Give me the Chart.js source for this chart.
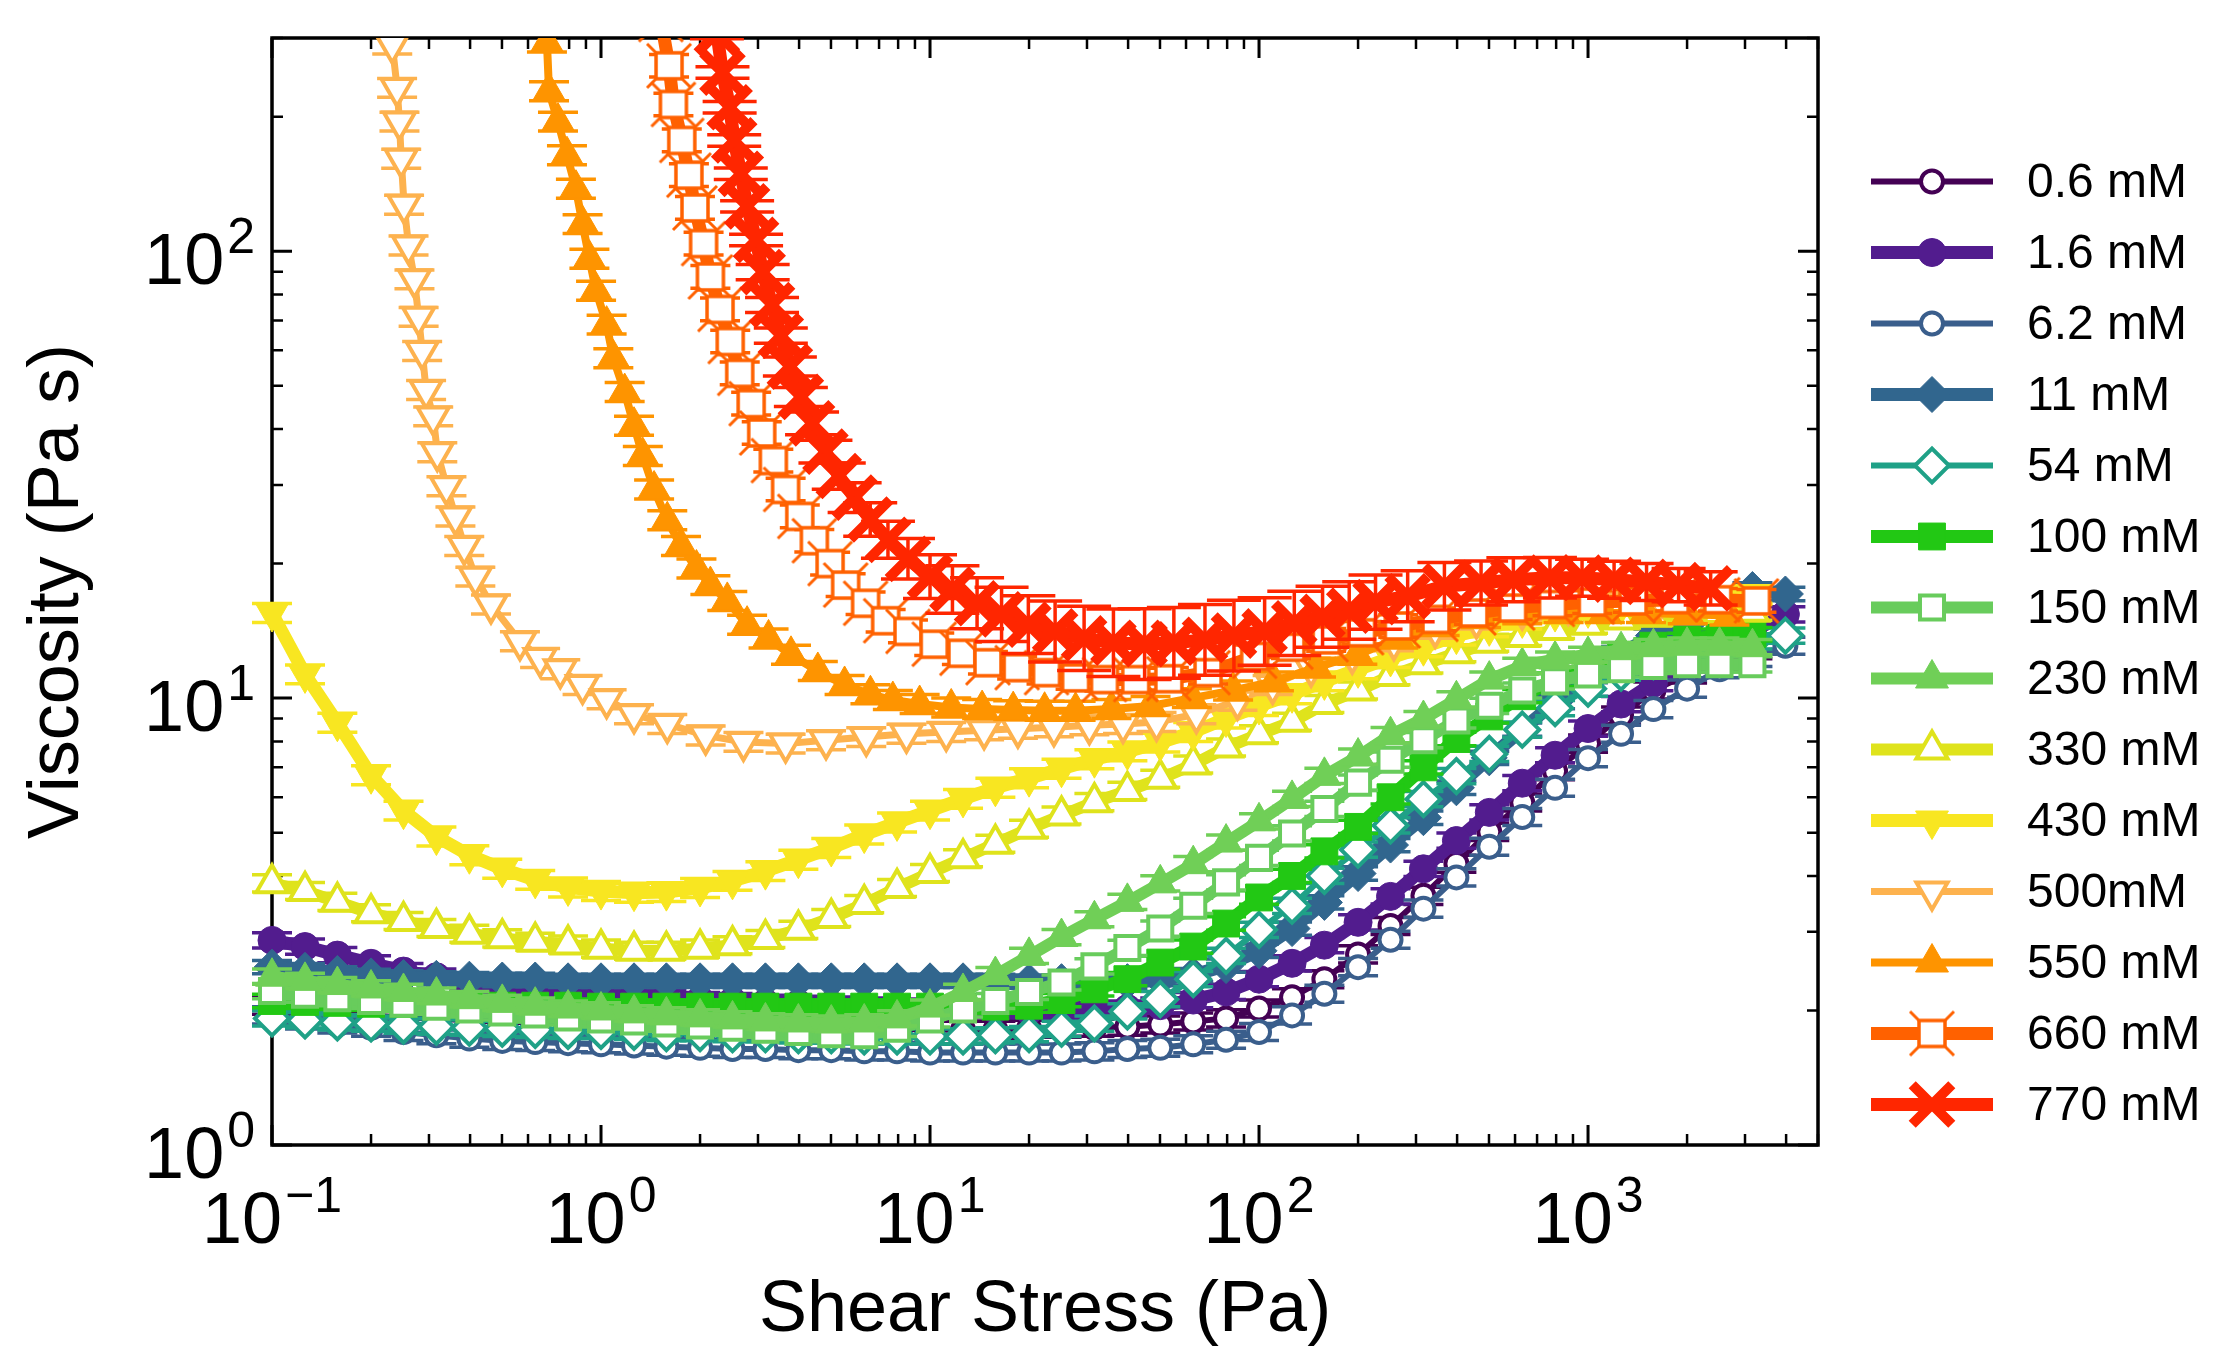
<!DOCTYPE html>
<html>
<head>
<meta charset="utf-8">
<script src="https://cdn.jsdelivr.net/npm/chart.js@4.4.0/dist/chart.umd.min.js"></script>
<style>
  html, body { margin: 0; padding: 0; background: #fff; }
  canvas { display: block; }
</style>
</head>
<body>
<canvas id="viscChart" width="2223" height="1347"></canvas>
<script>
// ---------- data ----------
// shared shear stress grid (Pa) for 0.6 – 430 mM
const stressGrid = [0.1, 0.126, 0.158, 0.2, 0.251, 0.316, 0.398, 0.501, 0.631, 0.794,
  1, 1.26, 1.58, 2, 2.51, 3.16, 3.98, 5.01, 6.31, 7.94,
  10, 12.6, 15.8, 20, 25.1, 31.6, 39.8, 50.1, 63.1, 79.4,
  100, 126, 158, 200, 251, 316, 398, 501, 631, 794,
  1000, 1260, 1580, 2000, 2510, 3160, 3980];

const eta06 = [2.05, 2.0, 1.97, 1.95, 1.93, 1.92, 1.9, 1.89, 1.88, 1.87,
  1.86, 1.85, 1.85, 1.84, 1.84, 1.83, 1.83, 1.82, 1.82, 1.82,
  1.81, 1.81, 1.81, 1.82, 1.82, 1.83, 1.84, 1.86, 1.89, 1.92,
  2.02, 2.14, 2.35, 2.67, 3.09, 3.61, 4.26, 5.02, 5.84, 6.86,
  7.91, 9.14, 10.4, 11.3, 12.1, 12.8, null];
const eta16 = [2.87, 2.78, 2.66, 2.55, 2.45, 2.38, 2.32, 2.27, 2.23, 2.2,
  2.17, 2.15, 2.13, 2.11, 2.1, 2.08, 2.07, 2.06, 2.05, 2.04,
  2.03, 2.02, 2.01, 2.0, 2.0, 2.0, 2.02, 2.05, 2.11, 2.2,
  2.35, 2.55, 2.8, 3.15, 3.6, 4.15, 4.8, 5.55, 6.45, 7.45,
  8.55, 9.7, 10.8, 11.9, 13.0, 14.1, 15.4];
const eta62 = [1.95, 1.9, 1.86, 1.83, 1.79, 1.76, 1.73, 1.71, 1.7, 1.69,
  1.68, 1.67, 1.66, 1.65, 1.64, 1.64, 1.63, 1.63, 1.62, 1.62,
  1.61, 1.61, 1.61, 1.61, 1.61, 1.62, 1.64, 1.65, 1.68, 1.72,
  1.79, 1.95, 2.18, 2.5, 2.88, 3.38, 3.97, 4.65, 5.42, 6.3,
  7.34, 8.32, 9.45, 10.5, 11.6, 12.3, 13.1];
const eta11 = [2.5, 2.46, 2.42, 2.39, 2.37, 2.36, 2.35, 2.34, 2.34, 2.33,
  2.33, 2.33, 2.33, 2.33, 2.33, 2.33, 2.33, 2.33, 2.33, 2.33,
  2.33, 2.33, 2.33, 2.32, 2.32, 2.32, 2.32, 2.35, 2.4, 2.52,
  2.72, 3.05, 3.49, 4.05, 4.69, 5.4, 6.3, 7.35, 8.5, 9.8,
  11.2, 12.6, 13.8, 14.6, 15.6, 17.5, 17.1];
const eta54 = [1.92, 1.9, 1.88, 1.87, 1.85, 1.84, 1.83, 1.82, 1.81, 1.8,
  1.8, 1.79, 1.78, 1.78, 1.77, 1.77, 1.76, 1.76, 1.75, 1.75,
  1.75, 1.75, 1.76, 1.77, 1.82, 1.87, 1.99, 2.12, 2.35, 2.65,
  3.03, 3.43, 4.0, 4.58, 5.19, 5.94, 6.69, 7.5, 8.5, 9.5,
  10.5, 11.4, 12.1, 12.7, 13.1, 13.4, 13.8];
const eta100 = [2.1, 2.09, 2.08, 2.07, 2.07, 2.06, 2.06, 2.05, 2.05, 2.05,
  2.04, 2.04, 2.04, 2.04, 2.04, 2.04, 2.04, 2.04, 2.04, 2.04,
  2.04, 2.04, 2.04, 2.05, 2.11, 2.23, 2.35, 2.56, 2.78, 3.13,
  3.58, 4.0, 4.54, 5.15, 6.0, 7.0, 8.1, 9.1, 10.1, 11.0,
  11.8, 12.5, 13.1, 13.5, 13.8, 13.9, null];
const eta150 = [2.21, 2.17, 2.13, 2.1, 2.07, 2.04, 2.01, 1.98, 1.96, 1.93,
  1.91, 1.89, 1.87, 1.85, 1.83, 1.81, 1.79, 1.77, 1.76, 1.82,
  1.91, 2.01, 2.1, 2.2, 2.31, 2.51, 2.76, 3.05, 3.43, 3.87,
  4.39, 4.98, 5.65, 6.47, 7.28, 8.05, 8.91, 9.61, 10.4, 10.9,
  11.3, 11.6, 11.8, 11.9, 11.9, 11.9, null];
const eta230 = [2.38, 2.33, 2.28, 2.24, 2.2, 2.16, 2.12, 2.08, 2.05, 2.02,
  2.0, 1.97, 1.95, 1.93, 1.91, 1.89, 1.88, 1.87, 1.88, 1.92,
  2.03, 2.2, 2.4, 2.65, 2.92, 3.2, 3.5, 3.85, 4.25, 4.75,
  5.3, 5.95, 6.7, 7.4, 8.26, 8.98, 9.94, 11.0, 11.8, 12.2,
  12.5, 12.8, 13.0, 13.1, 13.1, 13.0, null];
const eta330 = [3.85, 3.7, 3.5, 3.3, 3.17, 3.06, 2.97, 2.9, 2.85, 2.81,
  2.75, 2.72, 2.72, 2.75, 2.8, 2.89, 3.03, 3.22, 3.46, 3.76,
  4.06, 4.38, 4.72, 5.1, 5.46, 5.85, 6.2, 6.6, 7.1, 7.75,
  8.3, 8.85, 9.7, 10.4, 11.2, 11.9, 12.6, 13.3, 13.7, 14.2,
  14.6, 15.0, 15.2, 15.4, 15.5, 15.6, null];
const eta430 = [15.5, 11.3, 8.81, 6.72, 5.6, 4.9, 4.45, 4.15, 3.92, 3.77,
  3.7, 3.67, 3.68, 3.76, 3.9, 4.1, 4.35, 4.62, 4.95, 5.27,
  5.6, 5.95, 6.3, 6.62, 6.95, 7.3, 7.6, 7.95, 8.4, 9.0,
  9.6, 10.2, 10.9, 11.6, 12.3, 13.0, 13.8, 14.4, 15.0, 15.5,
  15.8, 16.1, 16.3, 16.5, 16.7, 17.0, null];

// yield-stress samples: own stress values
const stress500 = [0.232, 0.240, 0.244, 0.247, 0.252, 0.26, 0.271, 0.279, 0.286, 0.294,
  0.309, 0.318, 0.339, 0.361, 0.384, 0.415, 0.463, 0.567, 0.653, 0.752,
  0.879, 1.04, 1.26, 1.59, 2.08, 2.71, 3.64, 4.83, 6.4, 8.48,
  11.2, 14.6, 18.5, 23.8, 30.5, 38.6, 48.8, 64.5, 86, 110,
  144, 192, 257, 343, 458, 631, 871, 1200, 1660, 2140];
const eta500 = [290, 232, 195, 161, 127, 103, 86.5, 71.3, 59.8, 48.9,
  42.7, 35.5, 29.8, 25.5, 21.9, 18.7, 16.2, 13.4, 12.3, 11.6,
  10.7, 9.94, 9.2, 8.75, 8.25, 7.98, 7.91, 8.05, 8.18, 8.32,
  8.4, 8.47, 8.54, 8.61, 8.69, 8.75, 8.84, 9.2, 9.86, 10.7,
  11.7, 12.5, 13.4, 14.3, 15.0, 15.7, 16.1, 16.4, 16.5, 16.6];

const stress550 = [0.685, 0.695, 0.74, 0.788, 0.839, 0.879, 0.922, 0.966, 1.04, 1.09,
  1.18, 1.26, 1.34, 1.45, 1.59, 1.75, 1.95, 2.15, 2.42, 2.78,
  3.23, 3.78, 4.56, 5.5, 6.59, 7.71, 9.3, 11.6, 14.4, 17.9,
  22.3, 27.7, 35.6, 46.8, 62.5, 83.4, 111, 149, 199, 265,
  354, 473, 631, 843, 1125, 1500, 2010, 2690];
const eta550 = [293, 228, 195, 164, 138, 115, 96.2, 81.6, 68.5, 57.6,
  48.4, 40.7, 34.8, 29.3, 25.0, 21.9, 19.5, 17.9, 16.5, 14.6,
  13.6, 12.5, 11.5, 10.7, 10.2, 9.9, 9.7, 9.53, 9.45, 9.4,
  9.37, 9.37, 9.45, 9.6, 10.0, 10.4, 10.9, 11.7, 12.5, 13.6,
  14.5, 15.1, 15.4, 15.5, 15.5, 15.5, 15.4, 15.3];

const stress660 = [1.52, 1.61, 1.66, 1.76, 1.85, 1.93, 2.05, 2.15, 2.3, 2.47,
  2.64, 2.86, 3.08, 3.34, 3.64, 4.02, 4.45, 4.97, 5.54, 6.37,
  7.33, 8.57, 10.3, 12.5, 15.0, 18.4, 22.6, 27.7, 33.9, 42.2,
  53.2, 70, 97, 125, 160, 205, 265, 345, 450, 590,
  780, 1030, 1370, 1840, 2480, 3250];
const eta660 = [330, 260, 213, 177, 148, 125, 104, 87.6, 74.1, 62.8,
  53.3, 45.6, 39.2, 34.0, 29.3, 25.5, 22.5, 20.0, 17.9, 16.3,
  14.9, 14.1, 13.2, 12.6, 12.0, 11.7, 11.4, 11.1, 11.0, 11.0,
  11.05, 11.4, 12.4, 13.0, 13.5, 14.0, 14.5, 15.0, 15.5, 15.9,
  16.2, 16.4, 16.5, 16.6, 16.6, 16.5];

const stress770 = [2.25, 2.34, 2.46, 2.54, 2.66, 2.78, 2.96, 3.1, 3.31, 3.52,
  3.75, 4.05, 4.38, 4.81, 5.28, 5.9, 6.58, 7.45, 8.57, 10.0,
  11.7, 13.9, 16.5, 19.9, 24.0, 29.4, 36.1, 44.9, 55.1, 68.5,
  83.9, 104, 128, 156, 188, 226, 283, 366, 473, 593,
  766, 959, 1200, 1506, 1885, 2359];
const eta770 = [308, 251, 210, 177, 149, 126, 106, 89.8, 75.8, 64.7,
  55.2, 47.2, 41.2, 35.6, 31.4, 28.1, 25.1, 22.6, 20.5, 18.7,
  17.5, 16.3, 15.4, 14.6, 14.1, 13.6, 13.3, 13.2, 13.3, 13.5,
  13.8, 14.1, 14.7, 15.2, 15.7, 16.4, 16.9, 17.8, 18.1, 18.4,
  18.6, 18.6, 18.4, 18.2, 17.9, 17.6];
// relative error of 770 mM points
const err770 = [0.03, 0.03, 0.03, 0.03, 0.03, 0.03, 0.03, 0.04, 0.04, 0.04,
  0.05, 0.05, 0.06, 0.06, 0.07, 0.08, 0.09, 0.1, 0.11, 0.12,
  0.13, 0.14, 0.15, 0.16, 0.17, 0.18, 0.19, 0.2, 0.2, 0.2,
  0.2, 0.19, 0.18, 0.17, 0.16, 0.15, 0.14, 0.13, 0.12, 0.12,
  0.11, 0.1, 0.1, 0.1, 0.09, 0.09];
// relative error of the other series
const errRel = [0.045, 0.04, 0.045, 0.035, 0.04, 0.035, 0.04, 0.04, 0.045, 0.05, 0.05, 0.05, 0.06, null];

const seriesLabels = ['0.6 mM', '1.6 mM', '6.2 mM', '11 mM', '54 mM', '100 mM', '150 mM',
  '230 mM', '330 mM', '430 mM', '500mM', '550 mM', '660 mM', '770 mM'];
const xSets = [stressGrid, stressGrid, stressGrid, stressGrid, stressGrid, stressGrid, stressGrid,
  stressGrid, stressGrid, stressGrid, stress500, stress550, stress660, stress770];
const ySets = [eta06, eta16, eta62, eta11, eta54, eta100, eta150, eta230, eta330, eta430,
  eta500, eta550, eta660, eta770];

// axis tick labels (powers of ten)
const xTickPowers = ['\u22121', '0', '1', '2', '3'];
const yTickPowers = ['0', '1', '2'];

// ---------- styles ----------
const FONT = '"Liberation Sans", Arial, Helvetica, sans-serif';

// square with diagonal whiskers (660 mM)
function burstSquare(color) {
    const c = document.createElement('canvas');
    c.width = 56; c.height = 56;
    const g = c.getContext('2d');
    g.strokeStyle = color;
    g.lineWidth = 3;
    g.beginPath();
    g.moveTo(6, 6); g.lineTo(50, 50);
    g.moveTo(50, 6); g.lineTo(6, 50);
    g.stroke();
    g.fillStyle = '#fff';
    g.fillRect(15, 15, 26, 26);
    g.lineWidth = 3.5;
    g.strokeRect(15, 15, 26, 26);
    return c;
}

const styles = [
    { color: '#440154', lw: 6,  shape: 'circle',   r: 11, open: true },
    { color: '#521c8e', lw: 13, shape: 'circle',   r: 14, open: false },
    { color: '#3a5e8c', lw: 6,  shape: 'circle',   r: 11, open: true },
    { color: '#31668e', lw: 13, shape: 'rectRot',  r: 18, open: false },
    { color: '#1fa187', lw: 6,  shape: 'rectRot',  r: 17, open: true },
    { color: '#22c814', lw: 13, shape: 'rect',     r: 19, open: false },
    { color: '#68cc5c', lw: 12, shape: 'rect',     r: 17, open: true },
    { color: '#70cf57', lw: 12, shape: 'triangle', r: 19, open: false },
    { color: '#dfe31c', lw: 12, shape: 'triangle', r: 18, open: true },
    { color: '#f8e621', lw: 13, shape: 'triangle', r: 19, open: false, rot: 180 },
    { color: '#fdb24e', lw: 7,  shape: 'triangle', r: 18, open: true,  rot: 180 },
    { color: '#fe9400', lw: 8,  shape: 'triangle', r: 19, open: false },
    { color: '#ff6100', lw: 13, shape: 'burst',    r: 16, open: true },
    { color: '#ff2600', lw: 13, shape: 'crossRot', r: 28, open: false, bw: 10 }
];

// ---------- datasets ----------
const datasets = seriesLabels.map((label, k) => {
    const st = styles[k];
    const pts = [];
    const errs = [];
    xSets[k].forEach((x, i) => {
        const y = ySets[k][i];
        if (y === null) return;
        pts.push({ x: x, y: y });
        errs.push(k === 13 ? err770[i] : errRel[k]);
    });
    const style = st.shape === 'burst' ? burstSquare(st.color) : st.shape;
    const bw = st.bw ? st.bw : (st.open ? 4 : 1);
    return {
        label: label,
        data: pts,
        errors: errs,
        capHalf: k === 13 ? 27 : 20,
        showLine: true,
        borderColor: st.color,
        borderWidth: st.lw,
        backgroundColor: st.color,
        pointStyle: style,
        pointRadius: st.r,
        pointRotation: st.rot || 0,
        pointBorderWidth: bw,
        pointBorderColor: st.color,
        pointBackgroundColor: st.open ? '#ffffff' : st.color,
        pointHoverRadius: st.r,
        tension: 0,
        clip: { left: 40, right: 40, top: 0, bottom: 0 },
        order: seriesLabels.length - k
    };
});

// ---------- plugins ----------
// frame and inward ticks on all four sides
const axisFrame = {
    id: 'axisFrame',
    beforeDatasetsDraw(chart) {
        const { ctx, chartArea: a, scales } = chart;
        const xs = scales.x, ys = scales.y;
        ctx.save();
        ctx.strokeStyle = '#000';
        for (let d = -1; d <= 3; d++) {
            for (let m = 1; m <= 9; m++) {
                const v = m * Math.pow(10, d);
                if (v < 0.1 || v > 5000) continue;
                const px = xs.getPixelForValue(v);
                const len = m === 1 ? 20 : 11;
                ctx.lineWidth = m === 1 ? 3 : 2.5;
                ctx.beginPath();
                ctx.moveTo(px, a.bottom); ctx.lineTo(px, a.bottom - len);
                ctx.moveTo(px, a.top); ctx.lineTo(px, a.top + len);
                ctx.stroke();
            }
        }
        for (let d = 0; d <= 2; d++) {
            for (let m = 1; m <= 9; m++) {
                const v = m * Math.pow(10, d);
                if (v < 1 || v > 300) continue;
                const py = ys.getPixelForValue(v);
                const len = m === 1 ? 20 : 11;
                ctx.lineWidth = m === 1 ? 3 : 2.5;
                ctx.beginPath();
                ctx.moveTo(a.left, py); ctx.lineTo(a.left + len, py);
                ctx.moveTo(a.right, py); ctx.lineTo(a.right - len, py);
                ctx.stroke();
            }
        }
        ctx.lineWidth = 3.5;
        ctx.strokeRect(a.left, a.top, a.right - a.left, a.bottom - a.top);
        ctx.restore();
    }
};

// vertical error bars with caps, drawn under each series
const errorBars = {
    id: 'errorBars',
    beforeDatasetDraw(chart, args) {
        const ds = chart.data.datasets[args.index];
        const { ctx, chartArea: a } = chart;
        const ys = chart.scales.y;
        ctx.save();
        ctx.beginPath();
        ctx.rect(a.left - 40, a.top, a.right - a.left + 80, a.bottom - a.top);
        ctx.clip();
        ctx.strokeStyle = ds.borderColor;
        ctx.lineWidth = 3.5;
        args.meta.data.forEach((pt, i) => {
            const v = ds.data[i].y;
            const e = ds.errors[i];
            const yHi = ys.getPixelForValue(v * (1 + e));
            const yLo = ys.getPixelForValue(v / (1 + e));
            const c = ds.capHalf;
            ctx.beginPath();
            ctx.moveTo(pt.x, yHi); ctx.lineTo(pt.x, yLo);
            ctx.moveTo(pt.x - c, yHi); ctx.lineTo(pt.x + c, yHi);
            ctx.moveTo(pt.x - c, yLo); ctx.lineTo(pt.x + c, yLo);
            ctx.stroke();
        });
        ctx.restore();
    }
};

function drawPower(ctx, exp, x, baseline, align) {
    ctx.font = '72px ' + FONT;
    const wb = ctx.measureText('10').width;
    ctx.font = '50px ' + FONT;
    const we = ctx.measureText(exp).width;
    const total = wb + 3 + we;
    const x0 = align === 'center' ? x - total / 2 : x - total;
    ctx.textAlign = 'left';
    ctx.textBaseline = 'alphabetic';
    ctx.font = '72px ' + FONT;
    ctx.fillText('10', x0, baseline);
    ctx.font = '50px ' + FONT;
    ctx.fillText(exp, x0 + wb + 3, baseline - 31);
}

// tick labels, axis titles and legend
const labelsAndLegend = {
    id: 'labelsAndLegend',
    afterDraw(chart) {
        const { ctx, chartArea: a, scales } = chart;
        ctx.save();
        ctx.fillStyle = '#000';
        xTickPowers.forEach((p, i) => {
            const px = scales.x.getPixelForValue(Math.pow(10, i - 1));
            drawPower(ctx, p, px, a.bottom + 98, 'center');
        });
        yTickPowers.forEach((p, i) => {
            const py = scales.y.getPixelForValue(Math.pow(10, i));
            drawPower(ctx, p, 255, py + 33, 'right');
        });
        ctx.font = '72px ' + FONT;
        ctx.textAlign = 'center';
        ctx.textBaseline = 'alphabetic';
        ctx.fillText('Shear Stress (Pa)', (a.left + a.right) / 2, 1331);
        ctx.save();
        ctx.translate(78, (a.top + a.bottom) / 2);
        ctx.rotate(-Math.PI / 2);
        ctx.fillText('Viscosity (Pa s)', 0, 0);
        ctx.restore();

        // legend
        chart.data.datasets.forEach((ds, k) => {
            const y = 181.5 + 71 * k;
            ctx.strokeStyle = ds.borderColor;
            ctx.lineWidth = ds.borderWidth;
            ctx.beginPath();
            ctx.moveTo(1871, y); ctx.lineTo(1993, y);
            ctx.stroke();
            ctx.fillStyle = ds.pointBackgroundColor;
            ctx.strokeStyle = ds.pointBorderColor;
            ctx.lineWidth = ds.pointBorderWidth;
            Chart.helpers.drawPoint(ctx, {
                pointStyle: ds.pointStyle,
                radius: ds.pointRadius,
                rotation: ds.pointRotation,
                borderWidth: ds.pointBorderWidth
            }, 1932, y);
            ctx.fillStyle = '#000';
            ctx.font = '48px ' + FONT;
            ctx.textAlign = 'left';
            ctx.textBaseline = 'middle';
            ctx.fillText(ds.label, 2027, y + 2);
        });
        ctx.restore();
    }
};

// ---------- chart ----------
const viscChart = new Chart(document.getElementById('viscChart'), {
    type: 'scatter',
    data: { datasets: datasets },
    options: {
        responsive: false,
        animation: false,
        devicePixelRatio: 1,
        layout: { padding: { left: 272, right: 405, top: 18, bottom: 202 } },
        plugins: {
            legend: { display: false },
            tooltip: { enabled: false }
        },
        scales: {
            x: { type: 'logarithmic', min: 0.1, max: 5000, display: false },
            y: { type: 'logarithmic', min: 1, max: 300, display: false }
        }
    },
    plugins: [axisFrame, errorBars, labelsAndLegend]
});
</script>
</body>
</html>
